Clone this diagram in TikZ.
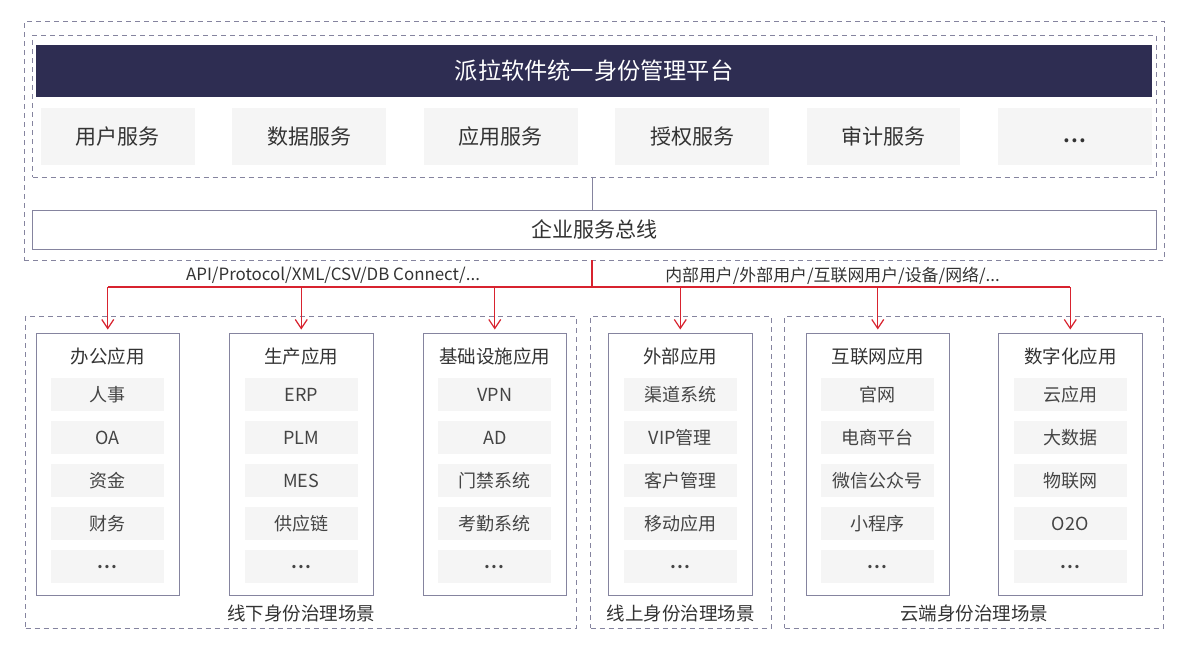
\documentclass[tikz,border=0pt]{standalone}
\usepackage{fontspec}
\setmainfont{Noto Sans CJK SC}
\usetikzlibrary{arrows.meta}
\definecolor{navy}{HTML}{2E2D52}
\definecolor{edge}{HTML}{85849F}
\definecolor{dash}{HTML}{85849F}
\definecolor{cell}{HTML}{F5F5F5}
\definecolor{ink}{HTML}{333333}
\definecolor{inksoft}{HTML}{444444}
\definecolor{wire}{HTML}{D8232F}
\newcommand{\bx}[7][]{% style, name, x1, y1, x2, y2, text
  \node[#2,anchor=north west,minimum width=#5pt-#3pt,minimum height=#6pt-#4pt,#1] (#7) at (#3,#4) {};}
\newfontface\boldcjk{Noto Sans CJK SC Bold}
\newcommand{\dotsraw}{{\boldcjk .\kern1.2pt.\kern1.2pt.}}
\newcommand{\dotstext}{\raisebox{-1.5pt}[0pt][0pt]{\dotsraw}}
\newcommand{\lowdots}{\raisebox{-6pt}[0pt][0pt]{\dotsraw}}
\tikzset{
  every node/.style={inner sep=0pt,outer sep=0pt,text=ink},
  dashbox/.style={draw=dash,line width=0.9pt,dash pattern=on 5pt off 4pt},
  solidbox/.style={draw=edge,line width=1pt,fill=white},
  headbox/.style={draw=navy,fill=navy,line width=0.6pt},
  cellbox/.style={fill=cell},
  svc/.style={font=\fontsize{21}{24}\selectfont},
  ttl/.style={font=\fontsize{18.5}{22}\selectfont},
  itm/.style={font=\fontsize{18}{22}\selectfont,text=inksoft},
  lbl/.style={font=\fontsize{16.9}{20}\selectfont},
  redline/.style={draw=wire,line width=1.2pt},
  redarrow/.style={redline,-{Straight Barb[length=9pt,width=12pt,line width=1.2pt]}}
}
\begin{document}
\begin{tikzpicture}[x=1pt,y=-1pt]
\useasboundingbox (0,0) rectangle (1196,649);
% upper frames
\bx{dashbox}{24}{21.5}{1164}{260}{outer}
\bx{dashbox}{32.5}{35}{1156}{177}{inner}
\bx{headbox}{36.5}{45.5}{1151.5}{96}{head}
\node[font=\fontsize{23.2}{26}\selectfont,text=white] (headt) at (594,71) {派拉软件统一身份管理平台};
% services
\foreach \i/\xa/\xb/\t in {1/41/194.5/用户服务,2/232/386/数据服务,3/424/577.5/应用服务,4/615/769/授权服务,5/806.5/960/审计服务,6/998/1152/\lowdots}{
  \bx{cellbox}{\xa}{108}{\xb}{165}{svc\i}
  \node[svc] at (svc\i) {\t};
}
\bx{solidbox}{32}{210.5}{1156}{249.5}{bus}
\node[svc] (bust) at (594,229) {企业服务总线};
% connectors
\coordinate (tapt) at (592,177);
\coordinate (tapb) at (592,210.5);
\draw[draw=edge,line width=1pt] (tapt) -- (tapb);
\coordinate (rs) at (592,260);
\coordinate (rj) at (592,287);
\draw[redline] (rs) -- (rj);
% lower frames
\bx{dashbox}{25.5}{316}{576}{628}{zoneA}
\bx{dashbox}{590.5}{316}{771}{628}{zoneB}
\bx{dashbox}{784.5}{316}{1163}{628}{zoneC}
\node[ttl] (zta) at (301,614) {线下身份治理场景};
\node[ttl] (ztb) at (680.5,614) {线上身份治理场景};
\node[ttl] (ztc) at (974,614) {云端身份治理场景};
% application columns
\foreach \n/\x/\t/\a/\b/\c/\d in {
  a/36/办公应用/人事/OA/资金/财务,
  b/229.5/生产应用/ERP/PLM/MES/供应链,
  c/423/基础设施应用/VPN/AD/门禁系统/考勤系统,
  d/608.5/外部应用/渠道系统/VIP管理/客户管理/移动应用,
  e/806/互联网应用/官网/电商平台/微信公众号/小程序,
  f/998.5/数字化应用/云应用/大数据/物联网/O2O}{
  \pgfmathsetmacro{\xr}{\x+143.5}
  \pgfmathsetmacro{\xc}{\x+71.75}
  \pgfmathsetmacro{\xi}{\x+15}
  \pgfmathsetmacro{\xj}{\x+128}
  \bx{solidbox}{\x}{333}{\xr}{595}{app\n}
  \node[ttl] at (\xc,356.5) {\t};
  \foreach \k/\y/\s in {1/378/\a,2/421/\b,3/464/\c,4/507/\d,5/550/\dotstext}{
    \pgfmathsetmacro{\ye}{\y+33}
    \pgfmathsetmacro{\ym}{\y+16.5}
    \bx{cellbox}{\xi}{\y}{\xj}{\ye}{it\n\k}
    \node[itm] at (\xc,\ym) {\s};
  }
}
% red bus
\coordinate (hl) at (appa.north |- rj);
\coordinate (hr) at (appf.north |- rj);
\draw[redline] (hl) -- (hr);
\foreach \n in {a,b,c,d,e,f}
  \draw[redarrow] (app\n.north |- rj) -- ([yshift=3.5pt]app\n.north);
% labels
\node[lbl] (la) at (333,275.5) {API/Protocol/XML/CSV/DB Connect/...};
\node[lbl] (lb) at (832.5,275.5) {内部用户/外部用户/互联网用户/设备/网络/...};
\end{tikzpicture}
\end{document}
